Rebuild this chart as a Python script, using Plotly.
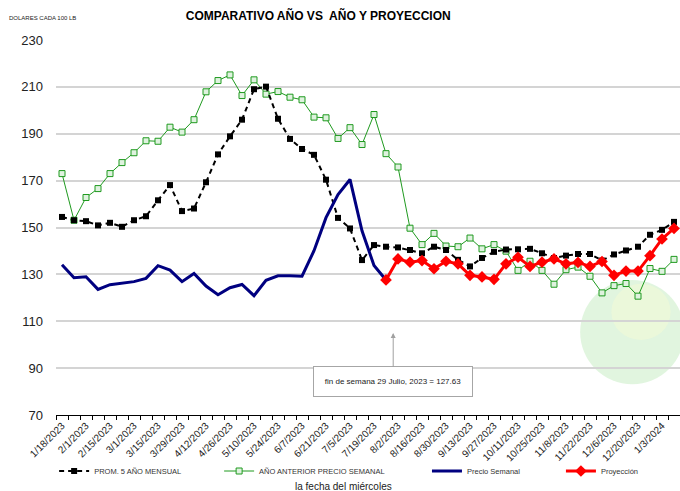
import plotly.graph_objects as go

dates = ["1/18/2023", "1/25/2023", "2/1/2023", "2/8/2023", "2/15/2023", "2/22/2023",
         "3/1/2023", "3/8/2023", "3/15/2023", "3/22/2023", "3/29/2023", "4/5/2023",
         "4/12/2023", "4/19/2023", "4/26/2023", "5/3/2023", "5/10/2023", "5/17/2023",
         "5/24/2023", "5/31/2023", "6/7/2023", "6/14/2023", "6/21/2023", "6/28/2023",
         "7/5/2023", "7/12/2023", "7/19/2023", "7/26/2023", "8/2/2023", "8/9/2023",
         "8/16/2023", "8/23/2023", "8/30/2023", "9/6/2023", "9/13/2023", "9/20/2023",
         "9/27/2023", "10/4/2023", "10/11/2023", "10/18/2023", "10/25/2023", "11/1/2023",
         "11/8/2023", "11/15/2023", "11/22/2023", "11/29/2023", "12/6/2023", "12/13/2023",
         "12/20/2023", "12/27/2023", "1/3/2024", "1/10/2024"]

prom_5_anos = [154.5, 153.1, 152.7, 150.9, 152.0, 150.3, 153.1, 154.8, 161.6, 168.1,
               157.0, 158.1, 169.3, 181.2, 188.9, 196.0, 209.0, 210.1, 196.4, 187.8,
               183.5, 181.0, 170.4, 154.1, 149.6, 136.1, 142.5, 141.8, 141.5, 140.4,
               139.0, 141.8, 140.4, 136.2, 133.4, 137.0, 139.6, 140.6, 140.7, 140.9,
               139.0, 137.0, 138.0, 138.7, 138.7, 135.9, 138.5, 140.2, 141.8, 146.9,
               149.0, 152.4]

ano_anterior = [173.0, 153.1, 162.8, 166.6, 173.0, 177.7, 181.9, 187.0, 186.8, 192.8,
                190.7, 196.0, 207.9, 212.7, 215.1, 206.3, 213.0, 206.9, 208.0, 205.6,
                204.5, 197.1, 196.8, 188.0, 192.6, 185.4, 198.2, 181.5, 175.8, 149.7,
                142.7, 147.5, 142.1, 141.8, 145.5, 140.9, 142.7, 139.9, 131.7, 135.6,
                131.7, 125.8, 132.0, 133.1, 129.2, 122.1, 125.2, 126.1, 120.7, 132.5,
                131.3, 136.4]

precio_semanal = [134.1, 128.6, 129.0, 123.6, 125.6, 126.4, 126.9, 128.3, 133.7, 131.8,
                  126.9, 130.4, 125.0, 121.3, 124.3, 125.7, 120.9, 127.5, 129.4, 129.4,
                  129.2, 140.1, 154.2, 164.1, 170.5, 148.6, 133.8, 127.63]

proyeccion = [127.63, 136.6, 135.2, 135.9, 132.4, 135.6, 134.5, 129.6, 128.9, 127.9,
              134.5, 137.3, 133.4, 135.2, 136.6, 134.5, 135.1, 133.4, 135.5, 129.6,
              131.4, 131.4, 138.0, 145.1, 149.6]

tick_text = [d if i % 2 == 0 else "" for i, d in enumerate(dates)]

fig = go.Figure()

fig.add_trace(go.Scatter(
    x=dates, y=ano_anterior, name="AÑO ANTERIOR PRECIO SEMANAL", mode="lines+markers",
    line=dict(color="#1f9a1f", width=1),
    marker=dict(symbol="square", size=6, color="#dff2df", line=dict(color="#1f9a1f", width=1)),
    legend="legend2", showlegend=True))

fig.add_trace(go.Scatter(
    x=dates, y=prom_5_anos, name="PROM. 5 AÑO MENSUAL", mode="lines+markers",
    line=dict(color="black", width=2, dash="5px,4px"),
    marker=dict(symbol="square", size=6, color="black"),
    legend="legend", showlegend=True))

fig.add_trace(go.Scatter(
    x=dates[:len(precio_semanal)], y=precio_semanal, name="Precio Semanal", mode="lines",
    line=dict(color="#000080", width=3),
    legend="legend3", showlegend=True))

fig.add_trace(go.Scatter(
    x=dates[len(dates) - len(proyeccion):], y=proyeccion, name="Proyección", mode="lines+markers",
    line=dict(color="#ff0000", width=3),
    marker=dict(symbol="diamond", size=9, color="#ff0000"),
    legend="legend4", showlegend=True))

leg_common = dict(orientation="h", yanchor="middle", y=(415 - 471) / 375, xanchor="left",
                  font=dict(family="Liberation Sans", size=7.5, color="#333"),
                  bgcolor="rgba(0,0,0,0)", itemwidth=30, visible=True)

fig.update_layout(
    width=680, height=491,
    showlegend=True,
    margin=dict(l=56, r=0, t=40, b=76, autoexpand=False),
    paper_bgcolor="white", plot_bgcolor="white",
    font=dict(family="Liberation Sans", color="black"),
    title=dict(text="<b>COMPARATIVO AÑO VS  AÑO Y PROYECCION</b>",
               x=0.468, xref="container", xanchor="center",
               y=1 - 16 / 491, yref="container", yanchor="middle",
               font=dict(family="Liberation Sans", size=12, color="black")),
    xaxis=dict(type="category", range=[-0.5, 51.5], automargin=False,
               tickmode="array", tickvals=dates, ticktext=tick_text,
               tickangle=-45, tickfont=dict(family="Liberation Sans", size=10, color="#222"),
               ticks="outside", ticklen=4, tickcolor="black", tickson="boundaries",
               showline=True, linecolor="black", linewidth=1,
               showgrid=False, zeroline=False),
    yaxis=dict(range=[70, 230], dtick=20, tick0=70, automargin=False,
               tickfont=dict(family="Liberation Sans", size=13, color="#222"),
               showgrid=True, gridcolor="#d4d4d4", gridwidth=1.5,
               showline=False, zeroline=False, ticks="", ticklabelstandoff=12),
    legend=dict(x=-0.003, **leg_common),
    legend2=dict(x=0.2614, **leg_common),
    legend3=dict(x=0.5945, **leg_common),
    legend4=dict(x=0.8092, **leg_common),
    shapes=[
        dict(type="circle", xref="paper", yref="paper", layer="below",
             x0=0.84, x1=1.007, y0=0.082, y1=0.36,
             fillcolor="rgba(200,236,196,0.55)", line=dict(width=0)),
        dict(type="circle", xref="paper", yref="paper", layer="below",
             x0=0.89, x1=0.985, y0=0.20, y1=0.35,
             fillcolor="rgba(240,250,215,0.7)", line=dict(width=0)),
    ],
    annotations=[
        dict(text="DOLARES CADA 100 LB", xref="paper", yref="paper",
             x=(7 - 56) / 624, y=(415 - 18) / 375, xanchor="left", yanchor="middle",
             showarrow=False, font=dict(family="Liberation Sans", size=6, color="#222")),
        dict(text="la fecha del miércoles", xref="paper", yref="paper",
             x=0.46, y=(415 - 486) / 375, xanchor="center", yanchor="middle",
             showarrow=False, font=dict(family="Liberation Sans", size=10, color="#222")),
        dict(text="fin de semana 29 Julio, 2023 = 127.63", x=27.6, y=105,
             xref="x", yref="y", showarrow=True, arrowhead=2, arrowsize=1,
             arrowwidth=1, arrowcolor="#a0a0a0", ax=0, ay=49,
             bgcolor="white", bordercolor="#a6a6a6", borderwidth=1, borderpad=4,
             width=150, height=21,
             font=dict(family="Liberation Sans", size=8, color="#222")),
    ],
)

fig.write_html("out.html", config={"displayModeBar": False},
               post_script="document.body.style.margin='0';document.body.style.padding='0';")
